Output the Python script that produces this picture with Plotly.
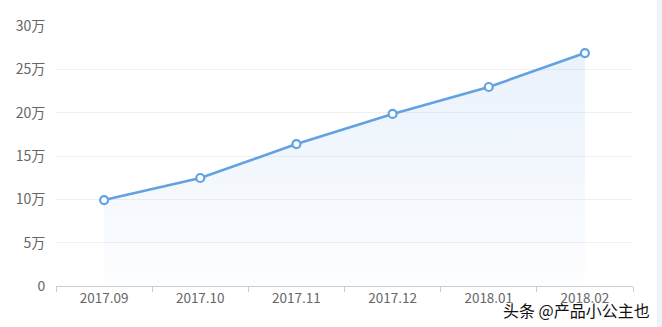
import plotly.graph_objects as go

months = ["2017.09", "2017.10", "2017.11", "2017.12", "2018.01", "2018.02"]
users = [99200, 124600, 163800, 198500, 229600, 268800]
y_tick_vals = [0, 50000, 100000, 150000, 200000, 250000, 300000]
y_tick_text = ["0", "5万", "10万", "15万", "20万", "25万", "30万"]

line_color = "#62a2e2"

fig = go.Figure()
fig.add_trace(go.Scatter(
    x=months, y=users, mode="lines+markers",
    line=dict(color=line_color, width=2.6),
    marker=dict(symbol="circle", size=8, color="white",
                line=dict(color=line_color, width=2.2)),
    fill="tozeroy",
    fillgradient=dict(type="vertical",
                      colorscale=[[0, "rgba(120,170,235,0.02)"], [1, "rgba(120,170,235,0.16)"]]),
    hoverinfo="x+y",
))

fig.update_layout(
    width=662, height=327,
    margin=dict(l=56, r=29, t=26, b=41),
    paper_bgcolor="white", plot_bgcolor="white",
    showlegend=False,
    font=dict(family="Noto Sans CJK SC, DejaVu Sans, sans-serif", color="#666666", size=13),
    xaxis=dict(type="category", range=[-0.5, 5.5], tickson="boundaries",
               ticks="outside", ticklen=5, tickcolor="#cccccc",
               showline=True, linecolor="#cccccc", linewidth=1,
               showgrid=False, tickfont=dict(size=13.5, color="#666666")),
    yaxis=dict(range=[0, 300000], tickvals=y_tick_vals, ticktext=y_tick_text,
               showgrid=True, gridcolor="#f0f0f0", gridwidth=1,
               zeroline=False, showline=False,
               ticks="outside", ticklen=7, tickcolor="rgba(0,0,0,0)",
               tickfont=dict(size=14, color="#666666")),
    shapes=[dict(type="rect", xref="paper", yref="paper",
                 x0=(657 - 56) / 577, x1=(662 - 56) / 577, y0=-1, y1=2,
                 fillcolor="#eef3f9", line=dict(width=0), layer="below")],
    annotations=[dict(text="头条 @产品小公主也", xref="paper", yref="paper",
                      x=(576 - 56) / 577, y=-(310 - 286) / 260,
                      xanchor="center", yanchor="middle", showarrow=False,
                      font=dict(size=16, color="#111111",
                                family="Noto Sans CJK SC, sans-serif",
                                shadow="1px 1px 1px white, -1px -1px 1px white"))],
)

fig.write_html("out.html")
